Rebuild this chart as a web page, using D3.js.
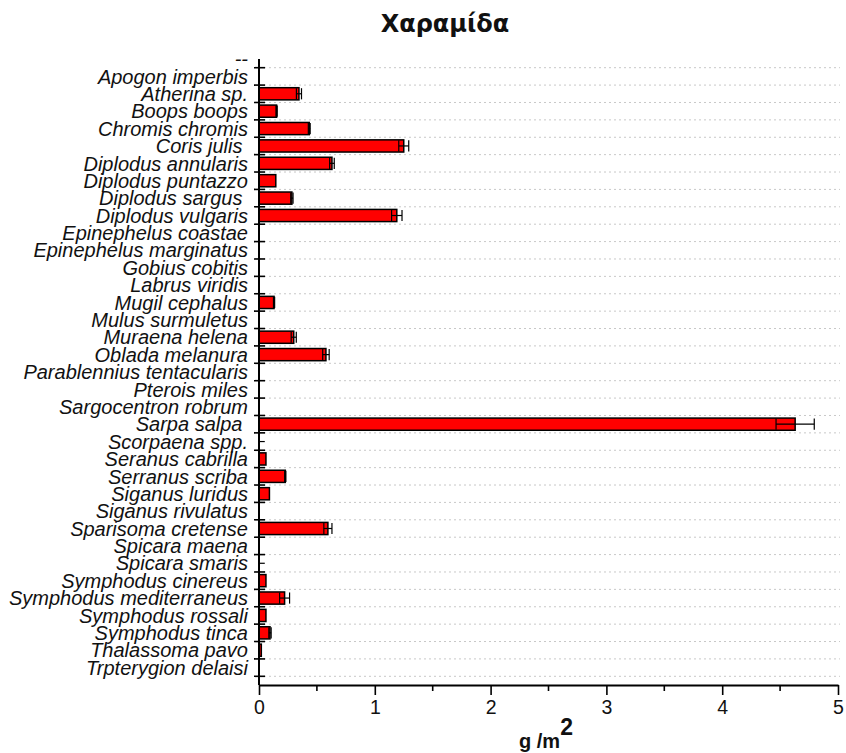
<!DOCTYPE html>
<html>
<head>
<meta charset="utf-8">
<script src="https://cdn.jsdelivr.net/npm/d3@7"></script>
<style>
  body { margin: 0; background: #fff; }
  svg { display: block; }
</style>
</head>
<body>
<div id="chart"></div>
<script>
// species on the category axis, top to bottom (trailing spaces as in the original labels)
const species = [
    '--', 'Apogon imperbis', 'Atherina sp.', 'Boops boops', 'Chromis chromis', 'Coris julis ',
    'Diplodus annularis', 'Diplodus puntazzo', 'Diplodus sargus ', 'Diplodus vulgaris',
    'Epinephelus coastae', 'Epinephelus marginatus', 'Gobius cobitis', 'Labrus viridis',
    'Mugil cephalus', 'Mulus surmuletus', 'Muraena helena', 'Oblada melanura',
    'Parablennius tentacularis', 'Pterois miles', 'Sargocentron robrum', 'Sarpa salpa ',
    'Scorpaena spp.', 'Seranus cabrilla', 'Serranus scriba', 'Siganus luridus',
    'Siganus rivulatus', 'Sparisoma cretense', 'Spicara maena', 'Spicara smaris',
    'Symphodus cinereus', 'Symphodus mediterraneus', 'Symphodus rossali', 'Symphodus tinca',
    'Thalassoma pavo', 'Trpterygion delaisi'
];

// biomass g/m2
const biomass = [
    0, 0, 0.345, 0.152, 0.434, 1.25,
    0.63, 0.145, 0.284, 1.19,
    0, 0, 0, 0,
    0.13, 0, 0.30, 0.578,
    0, 0, 0, 4.63,
    0, 0.06, 0.227, 0.09,
    0, 0.595, 0, 0,
    0.06, 0.221, 0.06, 0.095,
    0.02, 0
];

// error (+/-)
const errors = [
    0, 0, 0.022, 0.005, 0.008, 0.043,
    0.02, 0, 0.01, 0.045,
    0, 0, 0, 0,
    0.005, 0, 0.022, 0.028,
    0, 0, 0, 0.165,
    0.05, 0, 0.005, 0,
    0, 0.035, 0, 0.05,
    0, 0.043, 0, 0.01,
    0, 0
];

const xTicks = [0, 1, 2, 3, 4, 5];
const xMinorTicks = [0.5, 1.5, 2.5, 3.5, 4.5];

const W = 846, H = 753;
const plot = { left: 259, right: 838, top: 59, bottom: 685 };

const svg = d3.select('#chart').append('svg')
    .attr('width', W)
    .attr('height', H);

const x = d3.scaleLinear().domain([0, 5]).range([plot.left, plot.right]);
// categories sit on integer positions, boundaries on the half steps
const y = d3.scaleLinear().domain([0, species.length]).range([plot.top, plot.bottom]);
const band = y(1) - y(0);
const barH = band * 0.7;
const boundaries = d3.range(species.length).map(i => i + 0.5);

// dotted grid at category boundaries
svg.append('g')
    .selectAll('line')
    .data(boundaries)
    .join('line')
    .attr('x1', plot.left)
    .attr('x2', plot.right + 2)
    .attr('y1', d => y(d))
    .attr('y2', d => y(d))
    .attr('stroke', '#c8c8c8')
    .attr('stroke-width', 1)
    .attr('stroke-dasharray', '2,3');

// bars
svg.append('g')
    .selectAll('rect')
    .data(species.map((s, i) => ({ s, i, v: biomass[i] })).filter(d => d.v > 0))
    .join('rect')
    .attr('x', x(0))
    .attr('y', d => y(d.i) - barH / 2)
    .attr('width', d => x(d.v) - x(0))
    .attr('height', barH)
    .attr('fill', '#ff0000')
    .attr('stroke', '#000')
    .attr('stroke-width', 1.5);

// error bars
const errG = svg.append('g').attr('stroke', '#000').attr('stroke-width', 1.2);
species.forEach((s, i) => {
    const v = biomass[i], e = errors[i];
    if (!e) return;
    const lo = Math.max(0, v - e), hi = v + e;
    const cy = y(i);
    errG.append('line')
        .attr('x1', x(lo)).attr('x2', x(hi))
        .attr('y1', cy).attr('y2', cy);
    if (v === 0) return;
    [lo, hi].forEach(p => {
        errG.append('line')
            .attr('x1', x(p)).attr('x2', x(p))
            .attr('y1', cy - barH / 2 + 0.5).attr('y2', cy + barH / 2 - 0.5);
    });
});

// y axis (category axis)
const yAxisG = svg.append('g');
yAxisG.append('line')
    .attr('x1', plot.left).attr('x2', plot.left)
    .attr('y1', plot.top).attr('y2', plot.bottom)
    .attr('stroke', '#000').attr('stroke-width', 2);
yAxisG.selectAll('line.tick')
    .data(boundaries)
    .join('line')
    .attr('class', 'tick')
    .attr('x1', plot.left - 5).attr('x2', plot.left + 6)
    .attr('y1', d => y(d)).attr('y2', d => y(d))
    .attr('stroke', '#000').attr('stroke-width', 1.6);
yAxisG.selectAll('text')
    .data(species)
    .join('text')
    .attr('x', plot.left - 11)
    .attr('y', (d, i) => y(i))
    .attr('dy', '0.36em')
    .attr('text-anchor', 'end')
    .attr('font-family', '"Liberation Sans", Arial, sans-serif')
    .attr('font-style', 'italic')
    .attr('font-size', 20)
    .attr('fill', '#111')
    .style('white-space', 'pre')
    .text(d => d);

// x axis
const xAxis = d3.axisBottom(x)
    .tickValues(xTicks)
    .tickSize(10)
    .tickSizeOuter(0)
    .tickPadding(5)
    .tickFormat(d3.format('d'));
const xAxisG = svg.append('g')
    .attr('transform', `translate(0,${plot.bottom})`)
    .call(xAxis);
xAxisG.select('.domain').attr('stroke-width', 2);
xAxisG.selectAll('.tick line').attr('stroke-width', 1.6);
xAxisG.selectAll('.tick text')
    .attr('font-family', '"Liberation Sans", Arial, sans-serif')
    .attr('font-size', 19.5)
    .attr('fill', '#111');
xAxisG.selectAll('line.minor')
    .data(xMinorTicks)
    .join('line')
    .attr('class', 'minor')
    .attr('x1', d => x(d)).attr('x2', d => x(d))
    .attr('y1', 0).attr('y2', 6)
    .attr('stroke', '#000').attr('stroke-width', 1.6);

// axis title
const xt = svg.append('text')
    .attr('x', 519)
    .attr('y', 748)
    .attr('font-family', '"Liberation Sans", Arial, sans-serif')
    .attr('font-weight', 'bold')
    .attr('font-size', 20)
    .attr('fill', '#111');
xt.append('tspan').text('g /m');
xt.append('tspan').attr('dy', -13).attr('font-size', 23).text('2');

// title
svg.append('text')
    .attr('x', 445)
    .attr('y', 32)
    .attr('text-anchor', 'middle')
    .attr('font-family', '"DejaVu Sans", sans-serif')
    .attr('font-weight', 'bold')
    .attr('font-size', 24)
    .attr('fill', '#111')
    .text('Χαραμίδα');
</script>
</body>
</html>
